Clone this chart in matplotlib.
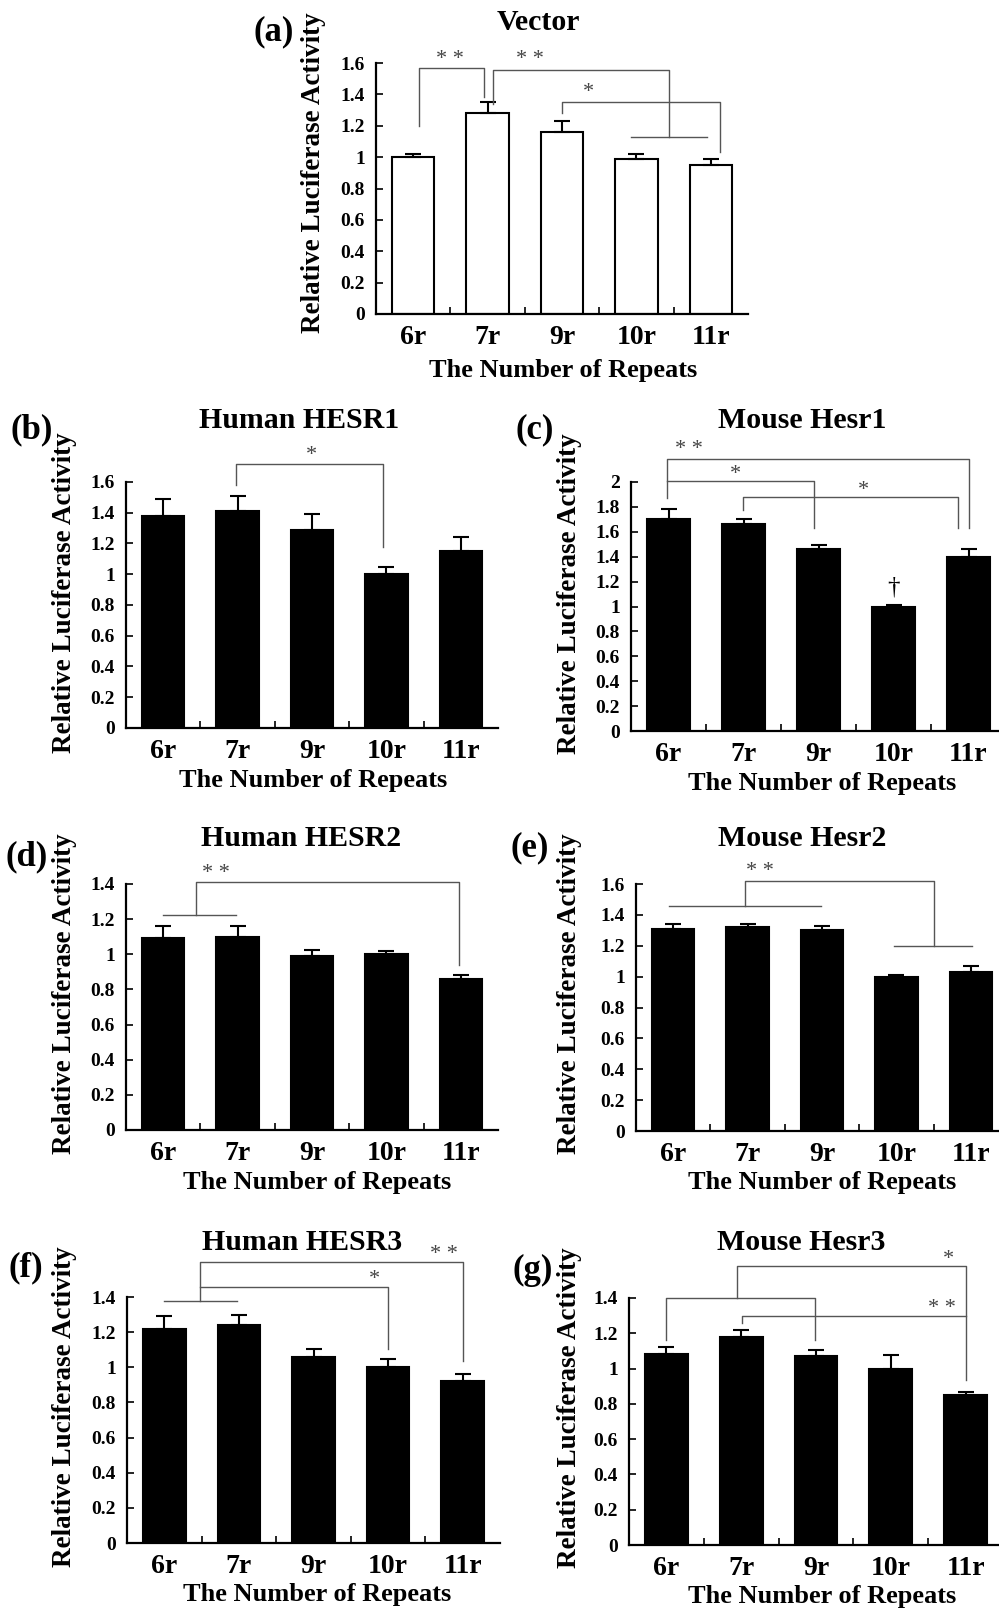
import numpy as np
import matplotlib
matplotlib.use('Agg')
import matplotlib.pyplot as plt
from matplotlib.ticker import FuncFormatter, FixedLocator

plt.rcParams['font.family'] = 'Liberation Serif'
plt.rcParams['font.weight'] = 'bold'

repeats = ['6r', '7r', '9r', '10r', '11r']

# relative luciferase activity (mean, upper error)
vector_mean = [1.00, 1.28, 1.16, 0.99, 0.95]
vector_err = [0.02, 0.07, 0.07, 0.03, 0.04]
hesr1_human_mean = [1.38, 1.41, 1.29, 1.00, 1.15]
hesr1_human_err = [0.11, 0.10, 0.10, 0.05, 0.09]
hesr1_mouse_mean = [1.70, 1.66, 1.46, 1.00, 1.40]
hesr1_mouse_err = [0.08, 0.04, 0.035, 0.01, 0.065]
hesr2_human_mean = [1.09, 1.10, 0.99, 1.00, 0.86]
hesr2_human_err = [0.07, 0.06, 0.035, 0.02, 0.02]
hesr2_mouse_mean = [1.31, 1.32, 1.30, 1.00, 1.03]
hesr2_mouse_err = [0.03, 0.02, 0.03, 0.01, 0.04]
hesr3_human_mean = [1.22, 1.24, 1.06, 1.00, 0.92]
hesr3_human_err = [0.07, 0.06, 0.045, 0.05, 0.04]
hesr3_mouse_mean = [1.08, 1.18, 1.07, 1.00, 0.85]
hesr3_mouse_err = [0.04, 0.04, 0.035, 0.075, 0.02]

# significance brackets: polylines in (category, value) and star labels
vector_lines = [[(0.08, 1.20), (0.08, 1.565), (0.95, 1.565), (0.95, 1.385)],
                [(1.07, 1.34), (1.07, 1.555), (3.44, 1.555), (3.44, 1.13)],
                [(2.93, 1.13), (3.95, 1.13)],
                [(2.0, 1.28), (2.0, 1.352), (4.13, 1.352), (4.13, 1.035)]]
vector_stars = [(0.5, 1.62, '* *'), (1.57, 1.62, '* *'), (2.35, 1.41, '*')]
hesr1_human_lines = [[(0.98, 1.58), (0.98, 1.717), (2.96, 1.717), (2.96, 1.18)]]
hesr1_human_stars = [(1.99, 1.77, '*')]
hesr1_mouse_lines = [[(-0.02, 1.87), (-0.02, 2.188), (4.01, 2.188), (4.01, 1.63)],
                     [(-0.02, 2.01), (1.94, 2.01), (1.94, 1.63)],
                     [(0.99, 1.777), (0.99, 1.879), (3.86, 1.879), (3.86, 1.63)]]
hesr1_mouse_stars = [(0.27, 2.26, '* *'), (0.89, 2.06, '*'), (2.6, 1.93, '*')]
hesr2_human_lines = [[(0.0, 1.225), (0.98, 1.225)],
                     [(0.44, 1.225), (0.44, 1.41), (3.98, 1.41), (3.98, 0.94)]]
hesr2_human_stars = [(0.71, 1.46, '* *')]
hesr2_mouse_lines = [[(-0.06, 1.459), (1.98, 1.459)],
                     [(0.96, 1.459), (0.96, 1.622), (3.5, 1.622), (3.5, 1.196)],
                     [(2.97, 1.196), (4.01, 1.196)]]
hesr2_mouse_stars = [(1.17, 1.68, '* *')]
hesr3_human_lines = [[(0.0, 1.376), (0.97, 1.376)],
                     [(0.48, 1.376), (0.48, 1.6), (4.0, 1.6), (4.0, 1.034)],
                     [(0.48, 1.455), (3.0, 1.455), (3.0, 1.104)]]
hesr3_human_stars = [(2.82, 1.50, '*'), (3.75, 1.64, '* *')]
hesr3_mouse_lines = [[(0.0, 1.163), (0.0, 1.398), (1.99, 1.398), (1.99, 1.163)],
                     [(0.94, 1.398), (0.94, 1.583), (4.0, 1.583), (4.0, 0.936)],
                     [(1.01, 1.258), (1.01, 1.296), (4.0, 1.296)]]
hesr3_mouse_stars = [(3.77, 1.62, '*'), (3.68, 1.34, '* *')]

W, H = 999, 1616
fig = plt.figure(figsize=(W / 100, H / 100), dpi=100)


def ftext(x, y, s, **kw):
    fig.text(x / W, 1 - y / H, s, ha='center', va='center', **kw)


def panel(box, ymax, means, errs, lines, stars, white=False):
    l, r, t, b = box
    ax = fig.add_axes([l / W, 1 - b / H, (r - l) / W, (b - t) / H])
    x = np.arange(len(repeats))
    fc = 'white' if white else 'black'
    ax.bar(x, means, width=0.57, color=fc, edgecolor='black', linewidth=1.5)
    ax.errorbar(x, means, yerr=[np.zeros(len(errs)), errs], fmt='none',
                ecolor='black', elinewidth=1.5, capsize=6, capthick=1.5)
    ax.set_xlim(-0.5, len(repeats) - 0.5)
    ax.set_ylim(0, ymax)
    ax.set_yticks(np.arange(0, ymax + 0.001, 0.2))
    ax.yaxis.set_major_formatter(FuncFormatter(lambda v, p: f'{v:g}'))
    ax.set_xticks(x)
    ax.set_xticklabels(repeats, fontsize=20)
    ax.xaxis.set_minor_locator(FixedLocator(x[:-1] + 0.5))
    ax.tick_params(axis='x', which='major', length=0, pad=8)
    ax.tick_params(axis='x', which='minor', direction='in', length=5, width=1.2)
    ax.tick_params(axis='y', direction='in', length=5, width=1.2, labelsize=14, pad=8)
    for s in ['top', 'right']:
        ax.spines[s].set_visible(False)
    for s in ['left', 'bottom']:
        ax.spines[s].set_linewidth(1.6)
    for pts in lines:
        xs, ys = zip(*pts)
        ax.plot(xs, ys, color='#555555', lw=1.0, clip_on=False)
    for sx, sy, s in stars:
        ax.text(sx, sy, s, ha='center', va='center', fontsize=16,
                fontweight='normal', color='#444444', clip_on=False)
    return ax


ylab = 'Relative Luciferase Activity'
xlab = 'The Number of Repeats'
fs_title, fs_letter, fs_ylab, fs_xlab = 21.5, 25, 19.5, 19

# (a)
panel((376, 748, 63, 314), 1.6, vector_mean, vector_err,
      vector_lines, vector_stars, white=True)
ftext(538, 23, 'Vector', fontsize=fs_title)
ftext(274, 32, '(a)', fontsize=fs_letter)
ftext(313, 173, ylab, fontsize=fs_ylab, rotation=90)
ftext(563, 370, xlab, fontsize=fs_xlab)

# (b)
panel((126, 498, 482, 728), 1.6, hesr1_human_mean, hesr1_human_err,
      hesr1_human_lines, hesr1_human_stars)
ftext(299, 421, 'Human HESR1', fontsize=fs_title)
ftext(32, 430, '(b)', fontsize=fs_letter)
ftext(65, 593, ylab, fontsize=fs_ylab, rotation=90)
ftext(313, 781, xlab, fontsize=fs_xlab)

# (c)
ax_c = panel((631, 1006, 482, 731), 2.0, hesr1_mouse_mean, hesr1_mouse_err,
             hesr1_mouse_lines, hesr1_mouse_stars)
ax_c.text(3, 1.15, '\u2020', ha='center', va='center', fontsize=18,
          fontweight='normal')
ftext(802, 421, 'Mouse Hesr1', fontsize=fs_title)
ftext(535, 430, '(c)', fontsize=fs_letter)
ftext(570, 594, ylab, fontsize=fs_ylab, rotation=90)
ftext(822, 783, xlab, fontsize=fs_xlab)

# (d)
panel((126, 498, 884, 1130), 1.4, hesr2_human_mean, hesr2_human_err,
      hesr2_human_lines, hesr2_human_stars)
ftext(301, 838, 'Human HESR2', fontsize=fs_title)
ftext(27, 857, '(d)', fontsize=fs_letter)
ftext(65, 994, ylab, fontsize=fs_ylab, rotation=90)
ftext(317, 1182, xlab, fontsize=fs_xlab)

# (e)
panel((636, 1008, 884, 1131), 1.6, hesr2_mouse_mean, hesr2_mouse_err,
      hesr2_mouse_lines, hesr2_mouse_stars)
ftext(802, 838, 'Mouse Hesr2', fontsize=fs_title)
ftext(530, 848, '(e)', fontsize=fs_letter)
ftext(570, 994, ylab, fontsize=fs_ylab, rotation=90)
ftext(822, 1183, xlab, fontsize=fs_xlab)

# (f)
panel((127, 500, 1297, 1543), 1.4, hesr3_human_mean, hesr3_human_err,
      hesr3_human_lines, hesr3_human_stars)
ftext(302, 1242, 'Human HESR3', fontsize=fs_title)
ftext(26, 1268, '(f)', fontsize=fs_letter)
ftext(65, 1407, ylab, fontsize=fs_ylab, rotation=90)
ftext(317, 1595, xlab, fontsize=fs_xlab)

# (g)
panel((629, 1003, 1298, 1545), 1.4, hesr3_mouse_mean, hesr3_mouse_err,
      hesr3_mouse_lines, hesr3_mouse_stars)
ftext(801, 1242, 'Mouse Hesr3', fontsize=fs_title)
ftext(533, 1270, '(g)', fontsize=fs_letter)
ftext(570, 1408, ylab, fontsize=fs_ylab, rotation=90)
ftext(822, 1597, xlab, fontsize=fs_xlab)

fig.savefig('out.png', dpi=100)
